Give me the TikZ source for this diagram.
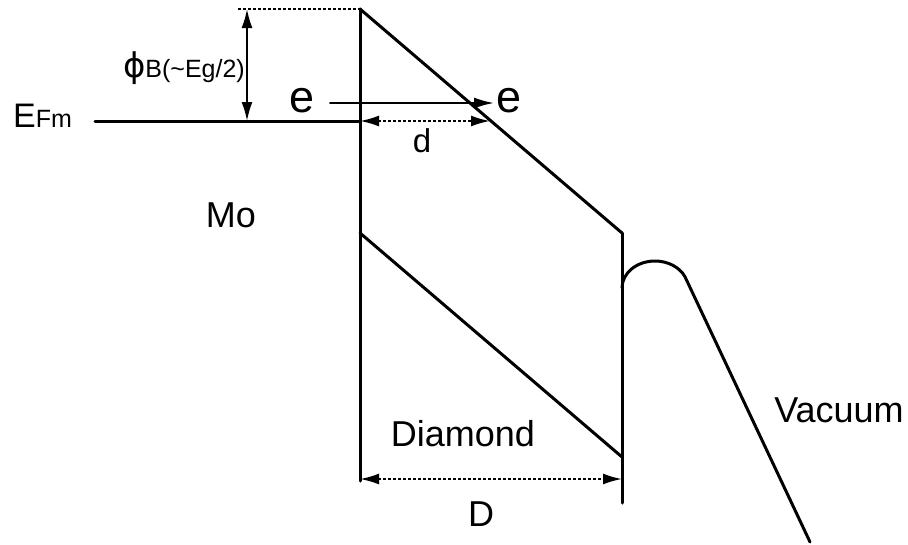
\documentclass[tikz,border=0pt]{standalone}
\usepackage{fontspec}
\setmainfont{Liberation Sans}
\newfontfamily\phifont{DejaVu Sans}
\usetikzlibrary{arrows.meta}

\begin{document}
\begin{tikzpicture}[x=1pt, y=-1pt, line cap=round, line join=round,
  band/.style={line width=3pt},
  dimline/.style={line width=2pt, {Latex[length=19pt,width=11pt]}-{Latex[length=19pt,width=11pt]}},
  dotline/.style={dash pattern=on 2.5pt off 2.5pt, line cap=butt},
  lbl/.style={inner sep=0pt, font=\fontsize{36}{36}\selectfont}]
  \useasboundingbox (0,0) rectangle (908,544);
  % band edges
  \coordinate (ctop) at (360,9);
  \coordinate (cbot) at (622,233);
  \coordinate (vtop) at (360,233);
  \coordinate (vbot) at (622,457);
  \draw[band] (ctop) -- (360,481);
  \draw[band] (cbot) -- (622,503);
  \draw[band] (ctop) -- (cbot);
  \draw[band] (vtop) -- (vbot);
  \draw[band] (95,121) -- (360,121);
  % vacuum barrier
  \draw[band] (622,288) arc[start angle=180, end angle=335, x radius=33, y radius=27] -- (810,542);
  % barrier height, tunnelling and widths
  \draw[line width=2pt, dotline] (238,9) -- (ctop);
  \draw[dimline] (247,9) -- (247,121);
  \draw[line width=2pt, -{Latex[length=20pt,width=11pt]}] (330,103) -- (494,103);
  \draw[dimline, dotline] (360,121) -- (490,121);
  \draw[dimline, dotline] (360,479) -- (622,479);
  % labels
  \node[lbl, anchor=base west] (efm) at (13,127) {\fontsize{34}{34}\selectfont E\fontsize{25}{25}\selectfont Fm};
  \node[lbl, anchor=base east] (phib) at (245,77) {{\phifont\fontsize{34}{34}\selectfont ϕ}\fontsize{25}{25}\selectfont B(\char"7E Eg/2)};
  \node[lbl, anchor=base] (ein) at (302,112) {\fontsize{45}{45}\selectfont e};
  \node[lbl, anchor=base] (eout) at (509,112) {\fontsize{45}{45}\selectfont e};
  \node[lbl, anchor=base] (dlbl) at (422,152) {\fontsize{33}{33}\selectfont d};
  \node[lbl, anchor=base] (mo) at (231,227) {Mo};
  \node[lbl, anchor=base] (diam) at (463,446) {Diamond};
  \node[lbl, anchor=base] (Dlbl) at (481,526) {D};
  \node[lbl, anchor=base] (vac) at (839,422) {Vacuum};
\end{tikzpicture}
\end{document}
